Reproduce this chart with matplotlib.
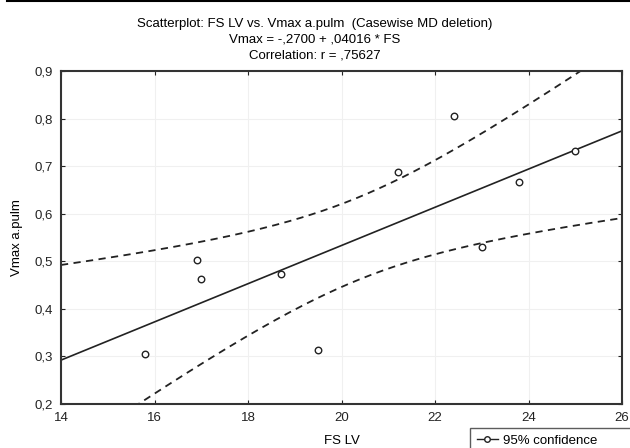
import numpy as np
import matplotlib.pyplot as plt
from matplotlib.lines import Line2D

plt.rcParams['font.family'] = ['Liberation Sans', 'DejaVu Sans']

fs_lv = [15.8, 16.9, 17.0, 18.7, 19.5, 21.2, 22.4, 23.0, 23.8, 25.0]
vmax = [0.306, 0.502, 0.462, 0.473, 0.313, 0.688, 0.806, 0.529, 0.666, 0.732]

# regression from the title
intercept = -0.2700
slope = 0.04016
t_crit = 2.306  # t(0.975, n-2=8)

x = np.array(fs_lv)
y = np.array(vmax)
n = len(x)
resid = y - (intercept + slope * x)
s = np.sqrt(np.sum(resid ** 2) / (n - 2))
xs = np.linspace(14, 26, 200)
fit = intercept + slope * xs
se = s * np.sqrt(1 / n + (xs - x.mean()) ** 2 / np.sum((x - x.mean()) ** 2))
upper = fit + t_crit * se
lower = fit - t_crit * se

fig = plt.figure(figsize=(6.3, 4.48), dpi=100)
ax = fig.add_axes([61 / 630, 1 - 404 / 448, 561 / 630, 333 / 448])

ax.plot(xs, fit, color='#222222', lw=1.2)
ax.plot(xs, upper, color='#222222', lw=1.3, ls=(0, (4, 3)))
ax.plot(xs, lower, color='#222222', lw=1.3, ls=(0, (4, 3)))
ax.scatter(x, y, s=22, facecolors='white', edgecolors='#222222', linewidths=1.0, zorder=3)

ax.set_xlim(14, 26)
ax.set_ylim(0.2, 0.9)
ax.set_xticks(range(14, 27, 2))
ax.set_yticks(np.arange(0.2, 0.91, 0.1))
ax.set_yticklabels([f"{v:.1f}".replace('.', ',') for v in np.arange(0.2, 0.91, 0.1)])
ax.tick_params(direction='in', length=3, top=True, right=True, labelsize=9.5,
               colors='#222222', pad=6)
ax.grid(True, color='#f0f0f0', lw=0.8)
for sp in ax.spines.values():
    sp.set_linewidth(1.5)
    sp.set_color('#333333')

ax.set_xlabel('FS LV', fontsize=9.5, labelpad=8)
ax.set_ylabel('Vmax a.pulm', fontsize=9.5, labelpad=8)

fig.text(0.5, 1 - 24 / 448, 'Scatterplot: FS LV vs. Vmax a.pulm  (Casewise MD deletion)',
         ha='center', va='center', fontsize=9.5)
fig.text(0.5, 1 - 40 / 448, 'Vmax = -,2700 + ,04016 * FS', ha='center', va='center', fontsize=9.5)
fig.text(0.5, 1 - 56 / 448, 'Correlation: r = ,75627', ha='center', va='center', fontsize=9.5)

# thin rule along the top edge
fig.add_artist(Line2D([7 / 630, 1], [1 - 1.5 / 448, 1 - 1.5 / 448], color='black', lw=1.5))

# legend box runs off the right and bottom edge, as in the original
handle = Line2D([], [], color='#222222', lw=1, marker='o', markerfacecolor='white', markersize=4)
fig.legend([handle], ['95% confidence        '], loc='upper left',
           bbox_to_anchor=(470 / 630, 1 - 428 / 448),
           fontsize=9.5, frameon=True, fancybox=False, edgecolor='#333333',
           handlelength=1.6, handletextpad=0.4, borderpad=0.5, borderaxespad=0)

fig.savefig('out.png', dpi=100)
